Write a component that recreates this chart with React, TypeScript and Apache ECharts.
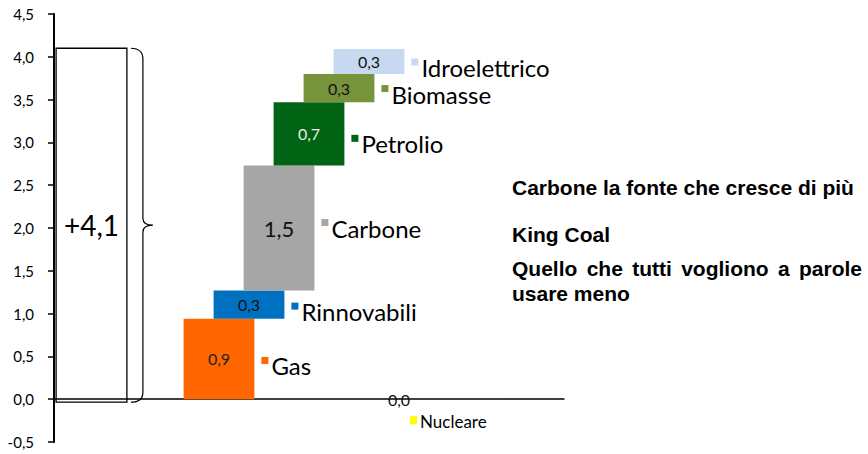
import React, { useEffect, useRef } from 'react';
import * as echarts from 'echarts';

// ---- data ----
const sources = ['Gas', 'Rinnovabili', 'Carbone', 'Petrolio', 'Biomasse', 'Idroelettrico', 'Nucleare'];
const increments = [0.94, 0.33, 1.46, 0.74, 0.33, 0.29, 0.0];
const slots = [5.5, 6.5, 7.5, 8.5, 9.5, 10.5, 11.5];
const colors = ['#FF6600', '#0070C0', '#A6A6A6', '#006414', '#77933C', '#C6D9F1', '#FFFF00'];
const totalValue = 4.1;
const totalLabel = '+4,1';
const totalSlot = 1.25;
const yMin = -0.5;
const yMax = 4.5;
const yStep = 0.5;
const notes = [
  'Carbone la fonte che cresce di più',
  'King Coal',
  'Quello che tutti vogliono a parole',
  'usare meno',
];

// ---- styles ----
const FONT = 'Lato';
const NOTE_FONT = '"Liberation Sans", Arial, sans-serif';
const HALF = 1.18;
const valueFontSize = [16, 16, 22, 16, 16, 16, 16];
const valueColor = ['#222', '#111', '#111', '#eaeaea', '#111', '#111', '#111'];
const labelNudge = [7, 7, 0, 10, 6, 6, 0];
const noteLines = [187, 234, 268, 293];
const justifyLine = [false, false, true, false];

const fmt = (v: number) => v.toFixed(1).replace('.', ',');

// waterfall bases: each non-zero change stacks on the previous ones; zero changes sit on 0
const bases: number[] = [];
increments.reduce((acc, v, i) => {
  bases[i] = v === 0 ? 0 : acc;
  return acc + v;
}, 0);

function measure(text: string, font: string) {
  const c = document.createElement('canvas').getContext('2d');
  if (!c) return text.length * 10;
  c.font = font;
  return c.measureText(text).width;
}

function buildNotes() {
  const els: any[] = [];
  const left = 512;
  const right = 862;
  const fs = 21;
  notes.forEach((line, li) => {
    const y = noteLines[li];
    if (justifyLine[li]) {
      const words = line.split(' ');
      const font = `bold ${fs}px "Liberation Sans"`;
      const widths = words.map((w) => measure(w, font));
      const total = widths.reduce((a, b) => a + b, 0);
      const gap = (right - left - total) / (words.length - 1);
      let x = left;
      words.forEach((w, wi) => {
        els.push({
          type: 'text',
          x,
          y,
          style: { text: w, fontSize: fs, fontWeight: 'bold', fontFamily: NOTE_FONT, fill: '#000', verticalAlign: 'middle' },
        });
        x += widths[wi] + gap;
      });
    } else {
      els.push({
        type: 'text',
        x: left,
        y,
        style: { text: line, fontSize: fs, fontWeight: 'bold', fontFamily: NOTE_FONT, fill: '#000', verticalAlign: 'middle' },
      });
    }
  });
  return els;
}

export default function App() {
  const ref = useRef<HTMLDivElement>(null);
  useEffect(() => {
    if (!ref.current) return;
    const chart = echarts.init(ref.current, undefined, { renderer: 'svg' });
    const barData = sources.map((_, i) => [slots[i], bases[i], increments[i], i]);

    chart.setOption({
      animation: false,
      backgroundColor: '#fff',
      grid: { left: 54, top: 14, width: 510, height: 428, containLabel: false },
      xAxis: {
        type: 'value',
        min: 0,
        max: 17,
        axisLine: { show: true, onZero: true, lineStyle: { color: '#000', width: 1.5 } },
        axisTick: { show: false },
        axisLabel: { show: false },
        splitLine: { show: false },
      },
      yAxis: {
        type: 'value',
        min: yMin,
        max: yMax,
        interval: yStep,
        axisLine: { show: true, lineStyle: { color: '#000', width: 2 } },
        axisTick: { show: true, inside: false, length: 6, lineStyle: { color: '#000', width: 1.5 } },
        axisLabel: {
          margin: 20,
          fontSize: 15,
          fontFamily: FONT,
          color: '#000',
          formatter: (v: number) => fmt(v),
        },
        splitLine: { show: false },
      },
      series: [
        {
          type: 'custom',
          clip: false,
          data: [[totalSlot, totalValue]],
          renderItem: (params: any, api: any) => {
            const x = api.value(0);
            const v = api.value(1);
            const tl = api.coord([x - HALF, v]);
            const br0 = api.coord([x + HALF, 0]);
            const br = [br0[0], br0[1] + 3];
            const midY = (tl[1] + br[1]) / 2;
            const midX = (tl[0] + br[0]) / 2;
            const sx = br[0] + 4;
            const vx = br[0] + 16;
            const tx = br[0] + 26;
            const top = tl[1];
            const bot = br[1];
            const d =
              `M${sx},${top} Q${vx},${top} ${vx},${top + 11} L${vx},${midY - 7} ` +
              `Q${vx},${midY} ${tx},${midY} Q${vx},${midY} ${vx},${midY + 7} ` +
              `L${vx},${bot - 10} Q${vx},${bot} ${sx},${bot}`;
            return {
              type: 'group',
              children: [
                {
                  type: 'rect',
                  shape: { x: tl[0], y: tl[1], width: br[0] - tl[0], height: br[1] - tl[1] },
                  style: { fill: 'rgba(255,255,255,0)', stroke: '#000', lineWidth: 1.3 },
                },
                {
                  type: 'path',
                  shape: { pathData: d },
                  style: { fill: 'none', stroke: '#000', lineWidth: 1.2 },
                },
                {
                  type: 'text',
                  style: {
                    text: totalLabel,
                    x: midX,
                    y: midY,
                    align: 'center',
                    verticalAlign: 'middle',
                    fontSize: 28,
                    fontFamily: FONT,
                    fill: '#000',
                  },
                },
              ],
            };
          },
        },
        {
          type: 'custom',
          clip: false,
          data: barData,
          renderItem: (params: any, api: any) => {
            const x = api.value(0);
            const base = api.value(1);
            const v = api.value(2);
            const i = api.value(3);
            const tl = api.coord([x - HALF, base + v]);
            const br = api.coord([x + HALF, base]);
            const midY = (tl[1] + br[1]) / 2;
            const midX = (tl[0] + br[0]) / 2;
            const children: any[] = [
              {
                type: 'rect',
                shape: { x: tl[0], y: tl[1], width: br[0] - tl[0], height: br[1] - tl[1] },
                style: { fill: colors[i] },
              },
              {
                type: 'text',
                style: {
                  text: fmt(v),
                  x: midX,
                  y: midY,
                  align: 'center',
                  verticalAlign: 'middle',
                  fontSize: valueFontSize[i],
                  fontFamily: FONT,
                  fill: valueColor[i],
                },
              },
            ];
            if (v > 0) {
              const kx = br[0] + 7;
              const ty = midY + labelNudge[i];
              children.push({
                type: 'rect',
                shape: { x: kx, y: ty - 9, width: 7, height: 7 },
                style: { fill: colors[i] },
              });
              children.push({
                type: 'text',
                style: {
                  text: sources[i],
                  x: kx + 10,
                  y: ty,
                  verticalAlign: 'middle',
                  fontSize: 24,
                  fontFamily: FONT,
                  fill: '#000',
                },
              });
            } else {
              const kx = midX + 11;
              const ky = br[1] + 17;
              children.push({
                type: 'rect',
                shape: { x: kx, y: ky, width: 7, height: 8 },
                style: { fill: colors[i] },
              });
              children.push({
                type: 'text',
                style: {
                  text: sources[i],
                  x: kx + 10,
                  y: ky + 5,
                  verticalAlign: 'middle',
                  fontSize: 17,
                  fontFamily: FONT,
                  fill: '#000',
                },
              });
            }
            return { type: 'group', children };
          },
        },
      ],
      graphic: buildNotes(),
    });
    return () => chart.dispose();
  }, []);
  return <div ref={ref} style={{ width: 868, height: 454, position: 'absolute', left: 0, top: 0 }} />;
}
